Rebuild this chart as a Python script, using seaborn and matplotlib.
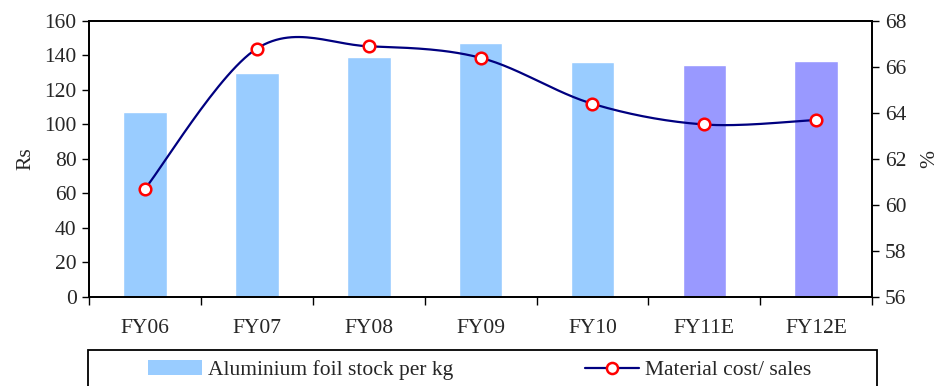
import numpy as np
import pandas as pd
import matplotlib
matplotlib.use("Agg")
import matplotlib.pyplot as plt
import seaborn as sns
from matplotlib.patches import Patch, Rectangle
from matplotlib.lines import Line2D

categories = ["FY06", "FY07", "FY08", "FY09", "FY10", "FY11E", "FY12E"]
foil_stock = [107, 130, 139, 147, 136, 134.5, 137]
material_cost = [60.7, 66.8, 66.9, 66.4, 64.4, 63.5, 63.7]
bar_colors = ["#99CCFF"] * 5 + ["#9999FF"] * 2

sns.set_theme(style="white")
plt.rcParams["font.family"] = ["Liberation Serif", "DejaVu Serif"]
FS = 15.5

fig = plt.figure(figsize=(9.39, 3.86), dpi=100)
ax = fig.add_axes([0.0948, 0.2306, 0.834, 0.715])

df = pd.DataFrame({"cat": categories, "val": foil_stock})
sns.barplot(data=df, x="cat", y="val", hue="cat", palette=bar_colors,
            width=0.39, legend=False, ax=ax, saturation=1)

ax.set_ylim(0, 160)
ax.set_yticks(range(0, 161, 20))
ax.set_xlim(-0.5, 6.5)
ax.set_xticks(np.arange(-0.5, 7, 1.0))
ax.set_xticklabels([])
ax.set_xticks(range(7), minor=True)
ax.set_xticklabels(categories, minor=True)
ax.tick_params(axis="x", which="major", direction="out", length=6, width=1, color="black", bottom=True)
ax.tick_params(axis="x", which="minor", length=0, pad=16, labelsize=FS)
ax.tick_params(axis="y", direction="out", length=5, width=1, color="black", left=True, labelsize=FS, pad=4)
ax.set_xlabel("")
ax.set_ylabel("Rs", fontsize=FS, labelpad=6)
for s in ax.spines.values():
    s.set_color("black")
    s.set_linewidth(1.3)

ax2 = ax.twinx()
ax2.set_ylim(56, 68)
ax2.set_yticks(range(56, 69, 2))
ax2.tick_params(axis="y", direction="out", length=5, width=1, color="black", right=True, labelsize=FS, pad=4)
ax2.set_ylabel("%", fontsize=FS, labelpad=10)
for s in ax2.spines.values():
    s.set_color("black")
    s.set_linewidth(1.3)

# smooth rendering of the line (Catmull-Rom, as in spreadsheet smoothed lines)
x = np.arange(len(material_cost), dtype=float)
y = np.array(material_cost, dtype=float)
xp = np.concatenate([[x[0]], x, [x[-1]]])
yp = np.concatenate([[y[0]], y, [y[-1]]])
sx, sy = [], []
t = np.linspace(0, 1, 30)
for i in range(1, len(xp) - 2):
    p0, p1, p2, p3 = [np.array([xp[j], yp[j]]) for j in (i - 1, i, i + 1, i + 2)]
    c1 = p1 + (p2 - p0) / 6.0
    c2 = p2 - (p3 - p1) / 6.0
    for tt in t:
        b = ((1 - tt) ** 3) * p1 + 3 * ((1 - tt) ** 2) * tt * c1 + 3 * (1 - tt) * tt ** 2 * c2 + tt ** 3 * p2
        sx.append(b[0]); sy.append(b[1])
sns.lineplot(x=sx, y=sy, sort=False, color="#000080", linewidth=1.6, ax=ax2, estimator=None)
sns.scatterplot(x=x, y=y, ax=ax2, s=70, facecolor="white", edgecolor="#FF0000",
                linewidth=1.8, zorder=5)

# legend box (runs off the bottom of the figure as in the reference)
box = Rectangle((88 / 939, -0.1), (877 - 88) / 939, 0.1933, transform=fig.transFigure,
                facecolor="white", edgecolor="black", linewidth=1.3, clip_on=False, zorder=0)
fig.patches.append(box)

handles = [Patch(facecolor="#99CCFF", edgecolor="none"),
           Line2D([], [], color="#000080", linewidth=1.6, marker="o", markersize=8,
                  markerfacecolor="white", markeredgecolor="#FF0000", markeredgewidth=1.8)]
labels = ["Aluminium foil stock per kg", "Material cost/ sales"]
leg = fig.legend(handles, labels, loc="center left", bbox_to_anchor=(148 / 939, 0.041),
                 ncol=2, frameon=False, fontsize=FS, handlelength=2.5, handletextpad=0.3,
                 borderaxespad=0, borderpad=0, columnspacing=6.1)

fig.savefig("out.png", dpi=100)
